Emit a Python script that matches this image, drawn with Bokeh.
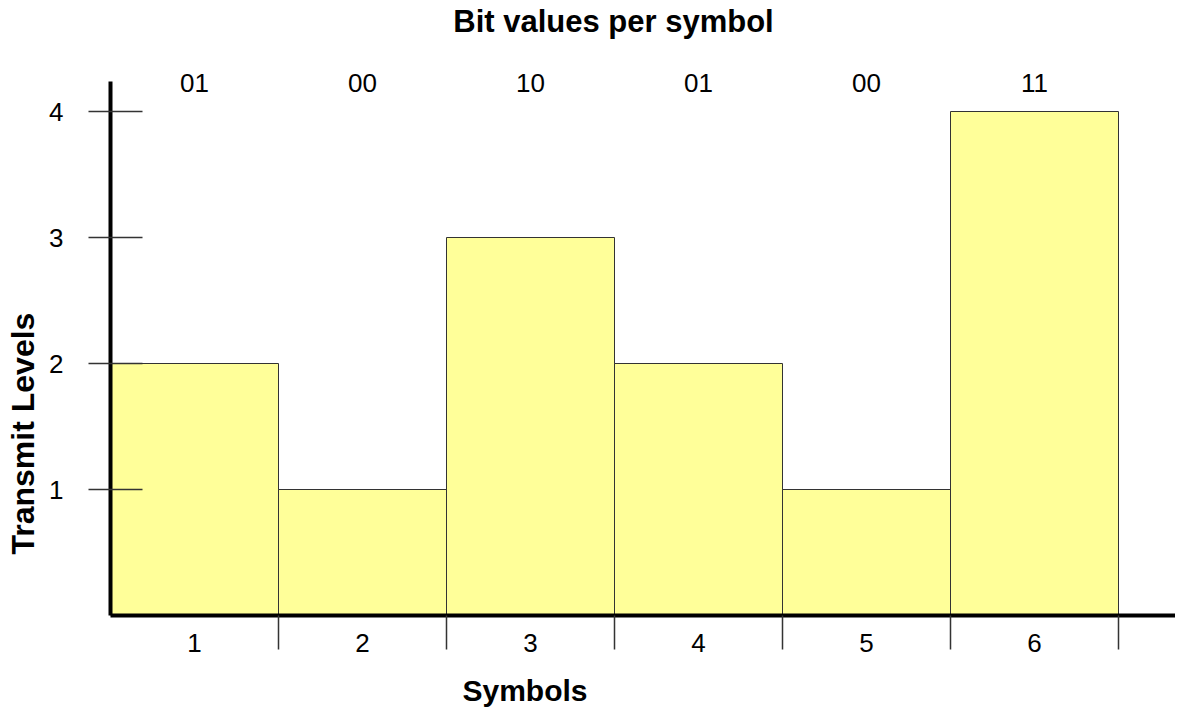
import math
from bokeh.plotting import figure
from bokeh.models import (ColumnDataSource, FixedTicker, LinearAxis, Title,
                          Range1d, CustomJSTickFormatter)
from bokeh.embed import file_html
from bokeh.resources import INLINE

# data
symbols = [1, 2, 3, 4, 5, 6]
levels = [2, 1, 3, 2, 1, 4]
bits = ["01", "00", "10", "01", "00", "11"]
level_ticks = [1, 2, 3, 4]
boundaries = [1.5, 2.5, 3.5, 4.5, 5.5, 6.5]
title_text = "Bit values per symbol"
x_title = "Symbols"
y_title = "Transmit Levels"

FONT = "Liberation Sans"

left, right, top, bottom = 110, 0, 80, 88
FW, FH = 1065, 534
px_per_x = 168.0
px_per_y = 126.0
title_center_x = 3.494  # data x of the title's centre

p = figure(frame_width=FW, frame_height=FH, output_backend="svg",
           toolbar_location=None,
           min_border_left=left, min_border_right=right,
           min_border_top=top, min_border_bottom=bottom,
           x_range=Range1d(0.5, 0.5 + FW / px_per_x),
           y_range=Range1d(0, FH / px_per_y))
p.title.visible = False
p.outline_line_color = None
p.grid.visible = False
p.background_fill_color = "white"
p.border_fill_color = "white"

src = ColumnDataSource(dict(x=symbols, top=levels))
p.vbar(x="x", top="top", bottom=0, width=1.0, source=src,
       fill_color="#FFFF99", line_color="#333333", line_width=1)

# x axis
xa = p.xaxis[0]
xa.ticker = FixedTicker(ticks=symbols, minor_ticks=boundaries)
xa.axis_line_width = 4
xa.axis_line_color = "black"
xa.major_tick_in = 0
xa.major_tick_out = 0
xa.minor_tick_in = 0
xa.minor_tick_out = 34
xa.minor_tick_line_color = "#333333"
xa.minor_tick_line_width = 1.5
xa.major_label_standoff = -16
xa.major_label_text_font = FONT
xa.major_label_text_font_size = "26px"
xa.major_label_text_color = "black"

# y axis
ya = p.yaxis[0]
ya.ticker = FixedTicker(ticks=level_ticks, minor_ticks=[])
ya.axis_line_width = 4
ya.axis_line_color = "black"
ya.major_tick_in = 32
ya.major_tick_out = 22
ya.major_tick_line_color = "#333333"
ya.major_tick_line_width = 1.5
ya.minor_tick_in = 0
ya.minor_tick_out = 0
ya.major_label_standoff = 25
ya.major_label_text_font = FONT
ya.major_label_text_font_size = "26px"
ya.major_label_text_color = "black"


def text_axis(locs, labels, size, style, standoff):
    ax = LinearAxis(ticker=FixedTicker(ticks=locs, minor_ticks=[]),
                    formatter=CustomJSTickFormatter(
                        args=dict(labs=labels, locs=locs),
                        code="let best = 0; for (let i = 0; i < locs.length; i++) {"
                             " if (Math.abs(locs[i] - tick) < Math.abs(locs[best] - tick)) best = i; }"
                             " return labs[best];"))
    ax.axis_line_color = None
    ax.major_tick_line_color = None
    ax.minor_tick_line_color = None
    ax.major_tick_in = 0
    ax.major_tick_out = 0
    ax.minor_tick_in = 0
    ax.minor_tick_out = 0
    ax.major_label_standoff = standoff
    ax.major_label_text_font = FONT
    ax.major_label_text_font_size = size
    ax.major_label_text_font_style = style
    ax.major_label_text_color = "black"
    return ax


# bit values per symbol as a top axis, then the chart title above it
p.add_layout(text_axis(symbols, bits, "26px", "normal", -10), "above")
p.add_layout(text_axis([title_center_x], [title_text], "31px", "bold", 32), "above")

# axis titles
p.add_layout(Title(text=x_title, align="left", offset=352, standoff=34,
                   text_font=FONT, text_font_size="30px",
                   text_font_style="bold", text_color="black"), "below")
p.add_layout(Title(text=y_title, align="left", offset=61,
                   standoff=8, vertical_align="top", text_font=FONT,
                   text_font_size="32px",
                   text_font_style="bold", text_color="black"), "left")

open("out.html", "w").write(file_html(p, INLINE))
